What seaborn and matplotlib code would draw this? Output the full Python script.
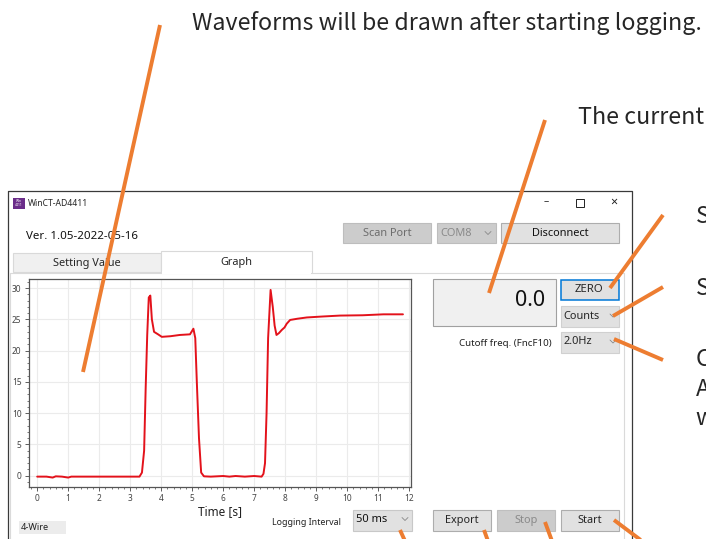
import numpy as np
import pandas as pd
import seaborn as sns
import matplotlib.pyplot as plt
from matplotlib.patches import Rectangle
from matplotlib.ticker import MultipleLocator

sns.set_style("ticks")
plt.rcParams['font.family'] = ['Noto Sans', 'DejaVu Sans']

W, H = 706, 539

# waveform (time in s, value in counts)
time_s = [0.0, 0.3, 0.5, 0.6, 0.8, 1.0, 1.1, 1.5, 2.0, 2.5, 3.0, 3.3, 3.38,
          3.45, 3.5, 3.55, 3.6, 3.65, 3.7, 3.77, 3.9, 4.02, 4.3, 4.6, 4.93,
          5.04, 5.1, 5.15, 5.22, 5.29, 5.38, 5.6, 6.0, 6.2, 6.4, 6.7, 7.0,
          7.24, 7.3, 7.35, 7.4, 7.45, 7.53, 7.6, 7.66, 7.72, 7.8, 7.89, 7.98,
          8.05, 8.16, 8.4, 8.7, 9.2, 9.77, 10.5, 11.17, 11.8]
value = [-0.15, -0.15, -0.3, -0.1, -0.15, -0.3, -0.15, -0.15, -0.15, -0.15,
         -0.15, -0.15, 0.5, 4.0, 14.0, 22.5, 28.5, 28.8, 25.0, 23.0, 22.6,
         22.2, 22.3, 22.5, 22.6, 23.5, 22.0, 15.0, 6.0, 0.5, -0.1, -0.15,
         -0.05, -0.15, -0.05, -0.15, -0.05, -0.15, 0.3, 2.0, 10.0, 22.0, 29.7,
         27.0, 24.0, 22.5, 22.8, 23.3, 23.7, 24.3, 24.9, 25.1, 25.3, 25.45,
         25.6, 25.65, 25.8, 25.8]

x_ticks = list(range(0, 13))
y_ticks = [0, 5, 10, 15, 20, 25, 30]

annotations = ["Waveforms will be drawn after starting logging.", "The current"]
cut_labels = ["S", "S", "C", "A", "w"]

df = pd.DataFrame({"Time [s]": time_s, "Value": value})

fig = plt.figure(figsize=(W / 100, H / 100), dpi=100)
fig.patch.set_facecolor("white")

UI = 7.9  # font size of button texts


def pix_axes(z):
    a = fig.add_axes([0, 0, 1, 1], zorder=z)
    a.set_xlim(0, W)
    a.set_ylim(H, 0)
    a.axis("off")
    a.patch.set_alpha(0)
    return a


def box(a, x0, y0, x1, y1, fc, ec, lw=0.8):
    a.add_patch(Rectangle((x0, y0), x1 - x0, y1 - y0, facecolor=fc,
                          edgecolor=ec, linewidth=lw))


def chevron(a, x, y):
    a.plot([x - 3, x, x + 3], [y - 1.5, y + 1.5, y - 1.5], color="#888888", lw=0.6)


bg = pix_axes(0)

# window frame
bg.plot([8, 8, 632, 632], [H, 191, 191, H], color="#3a3a3a", lw=0.9)
box(bg, 13, 197.5, 25, 209, "#6b2d8a", "none")
bg.text(19, 203, "Win\n4411", fontsize=2.4, color="white", ha="center", va="center",
        linespacing=0.9, fontweight="bold")
bg.text(28, 203.5, "WinCT-AD4411", fontsize=6.2, va="center")
bg.text(546, 202, "\u2013", fontsize=7.5, ha="center", va="center", color="#222222")
box(bg, 576, 198.5, 584, 206.5, "none", "#222222", 0.7)
bg.text(614, 202.5, "\u00d7", fontsize=9, ha="center", va="center", color="#222222")

bg.text(26.5, 236.5, "Ver. 1.05-2022-05-16", fontsize=8.3, va="center", color="#111111")

# port buttons
box(bg, 343, 223, 431, 243, "#cccccc", "#bdbdbd")
bg.text(387, 233.5, "Scan Port", fontsize=UI, ha="center", va="center", color="#6d6d6d")
box(bg, 436.5, 223, 495.5, 243, "#cccccc", "#bdbdbd")
bg.text(440, 233.5, "COM8", fontsize=UI, va="center", color="#8a8a8a")
chevron(bg, 488, 233)
box(bg, 501, 223, 618.5, 243, "#e1e1e1", "#adadad")
bg.text(560, 233.5, "Disconnect", fontsize=UI, ha="center", va="center", color="#111111")

# tabs
box(bg, 13, 253, 161, 272, "#f0f0f0", "#d9d9d9")
bg.text(87, 263.5, "Setting Value", fontsize=UI, ha="center", va="center")
box(bg, 161, 251, 311.5, 272.5, "white", "#d9d9d9")
box(bg, 161.5, 271, 311, 274, "white", "none", 0)
bg.text(236, 262, "Graph", fontsize=UI, ha="center", va="center")
bg.plot([311.5, 624, 624], [272.5, 272.5, H], color="#dadada", lw=0.8)
bg.plot([10, 10, 161], [H, 272.5, 272.5], color="#dadada", lw=0.8)

# bottom controls
box(bg, 19, 520.5, 65.5, 533.5, "#ececec", "none")
bg.text(20.5, 527, "4-Wire", fontsize=6.6, va="center", color="#222222")
bg.text(271.5, 522.5, "Logging Interval", fontsize=6.4, va="center", color="#222222")
box(bg, 352.5, 509.5, 411.5, 530.5, "#e1e1e1", "#c8c8c8")
bg.text(356, 520, "50 ms", fontsize=8, va="center", color="#111111")
chevron(bg, 405, 519)
box(bg, 433, 510, 490.5, 530.5, "#e1e1e1", "#adadad")
bg.text(461.5, 520.5, "Export", fontsize=UI, ha="center", va="center")
box(bg, 497, 510, 555, 530.5, "#cccccc", "#bfbfbf")
bg.text(526, 520.5, "Stop", fontsize=UI, ha="center", va="center", color="#8a8a8a")
box(bg, 561, 510, 618.5, 530.5, "#e1e1e1", "#adadad")
bg.text(590, 520.5, "Start", fontsize=UI, ha="center", va="center")

# right panel
box(bg, 432.5, 278.5, 555.5, 326, "#f0f0f0", "#a0a0a0")
bg.text(545.5, 301, "0.0", fontsize=15.5, ha="right", va="center", color="#111111")
box(bg, 561, 279.5, 619, 299.5, "#e1e1e1", "#0078d7", 1.1)
bg.text(589, 289.5, "ZERO", fontsize=8.2, ha="center", va="center")
box(bg, 561, 305.5, 619, 326.5, "#e1e1e1", "#d0d0d0")
bg.text(563.5, 316.5, "Counts", fontsize=UI, va="center")
chevron(bg, 613, 315.5)
bg.text(551.5, 343.5, "Cutoff freq. (FncF10)", fontsize=7.0, ha="right", va="center",
        color="#222222")
box(bg, 561, 332, 619, 352.5, "#e1e1e1", "#d0d0d0")
bg.text(563.5, 342, "2.0Hz", fontsize=UI, va="center")
chevron(bg, 613, 341.5)

# graph
ax = fig.add_axes([28.5 / W, 1 - 486.7 / H, (410.7 - 28.5) / W, (486.7 - 279.3) / H], zorder=1)
ax.set_facecolor("white")
sns.lineplot(data=df, x="Time [s]", y="Value", ax=ax, color="#e3121b", lw=1.4)
ax.set_xlim(-0.28, 12.05)
ax.set_ylim(-1.76, 31.4)
ax.set_xticks(x_ticks)
ax.set_yticks(y_ticks)
ax.xaxis.set_minor_locator(MultipleLocator(0.2))
ax.yaxis.set_minor_locator(MultipleLocator(1))
ax.grid(True, which="major", color="#ebebeb", lw=0.8)
ax.set_axisbelow(True)
ax.tick_params(which="major", direction="out", length=3, width=0.6, labelsize=6,
               colors="#444444", pad=2)
ax.tick_params(which="minor", direction="out", length=1.5, width=0.5, colors="#444444")
ax.set_xlabel("Time [s]", fontsize=8.5, labelpad=1.5, color="#222222")
ax.set_ylabel("")
for s in ax.spines.values():
    s.set_color("#555555")
    s.set_linewidth(0.9)

# orange callouts on top
ov = pix_axes(5)
orange = "#ed7d31"
callouts = [((160, 25), (83, 372)), ((545, 120), (489, 293)),
            ((663, 215), (610, 288)), ((663, 287), (613, 316)),
            ((614, 339), (663, 360)), ((400, 530), (405, H + 2)),
            ((484, 530), (488, H + 2)), ((545, 522), (552, H + 2)),
            ((614, 520), (642, H + 2))]
for (x0, y0), (x1, y1) in callouts:
    ov.plot([x0, x1], [y0, y1], color=orange, lw=2.8, solid_capstyle="butt")

jp = ["Noto Sans CJK JP", "DejaVu Sans"]
ov.text(192.5, 30, annotations[0], fontsize=16.7, family=jp, va="baseline")
ov.text(578, 124.3, annotations[1], fontsize=16.7, family=jp, va="baseline")
for lab, yb in zip(cut_labels, [223, 295, 366, 396, 425]):
    ov.text(695.5, yb, lab, fontsize=16.7, family=jp, va="baseline")

fig.savefig("out.png", dpi=100)
